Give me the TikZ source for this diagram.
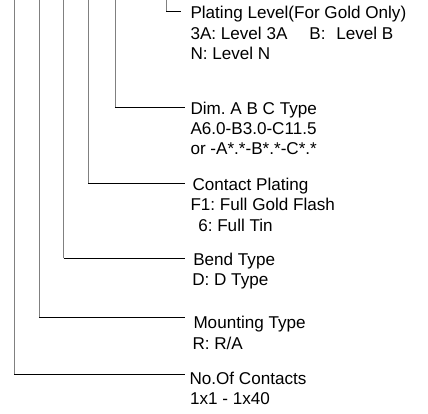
\documentclass[tikz,border=0pt]{standalone}
\usepackage{fontspec}
\setmainfont{Liberation Sans}
\frenchspacing
\begin{document}
\begin{tikzpicture}[x=1pt,y=-1pt,
  lbl/.style={anchor=base west,inner sep=0pt,outer sep=0pt,font=\fontsize{17.1}{20}\selectfont\frenchspacing},
  vline/.style={draw=black!50,line width=1pt},
  hline/.style={draw=black,line width=1pt}]
\useasboundingbox (0,0) rectangle (428,414);
% top ends of the vertical leaders
\coordinate (t1) at (166,0);
\coordinate (t2) at (115,0);
\coordinate (t3) at (88,0);
\coordinate (t4) at (63.5,0);
\coordinate (t5) at (39,0);
\coordinate (t6) at (14,0);
% free ends of the horizontal leaders
\coordinate (e1) at (181,12);
\coordinate (e2) at (185,108);
\coordinate (e3) at (185,184);
\coordinate (e4) at (185,258);
\coordinate (e5) at (185,317);
\coordinate (e6) at (185,374);
% labels
\node[lbl] (p1) at (190.5,18.5) {Plating Level(For Gold Only)};
\node[lbl] (p2) at (190.5,39.5) {3A: Level 3A\hspace{22pt}B:\hspace{6pt} Level B};
\node[lbl] (p3) at (190.5,60) {N: Level N};
\node[lbl] (d1) at (190.5,114.3) {Dim. A B C Type};
\node[lbl] (d2) at (190.5,134.5) {A6.0-B3.0-C11.5};
\node[lbl] (d3) at (190.5,154.5) {or -A*.*-B*.*-C*.*};
\node[lbl] (c1) at (192.5,190) {Contact Plating};
\node[lbl] (c2) at (190.5,210.7) {F1: Full Gold Flash};
\node[lbl] (c3) at (198.3,231) {6: Full Tin};
\node[lbl] (b1) at (193.3,265) {Bend Type};
\node[lbl] (b2) at (192.3,285.7) {D: D Type};
\node[lbl] (m1) at (193.5,328) {Mounting Type};
\node[lbl] (m2) at (192.5,349) {R: R/A};
\node[lbl] (n1) at (189.5,384.7) {No.Of Contacts};
\node[lbl] (n2) at (190,404.7) {1x1 - 1x40};
% leaders
\foreach \i in {1,...,6}{
  \draw[vline] (t\i) -- (t\i |- e\i);
  \draw[hline] (t\i |- e\i) -- (e\i);
}
\end{tikzpicture}
\end{document}
